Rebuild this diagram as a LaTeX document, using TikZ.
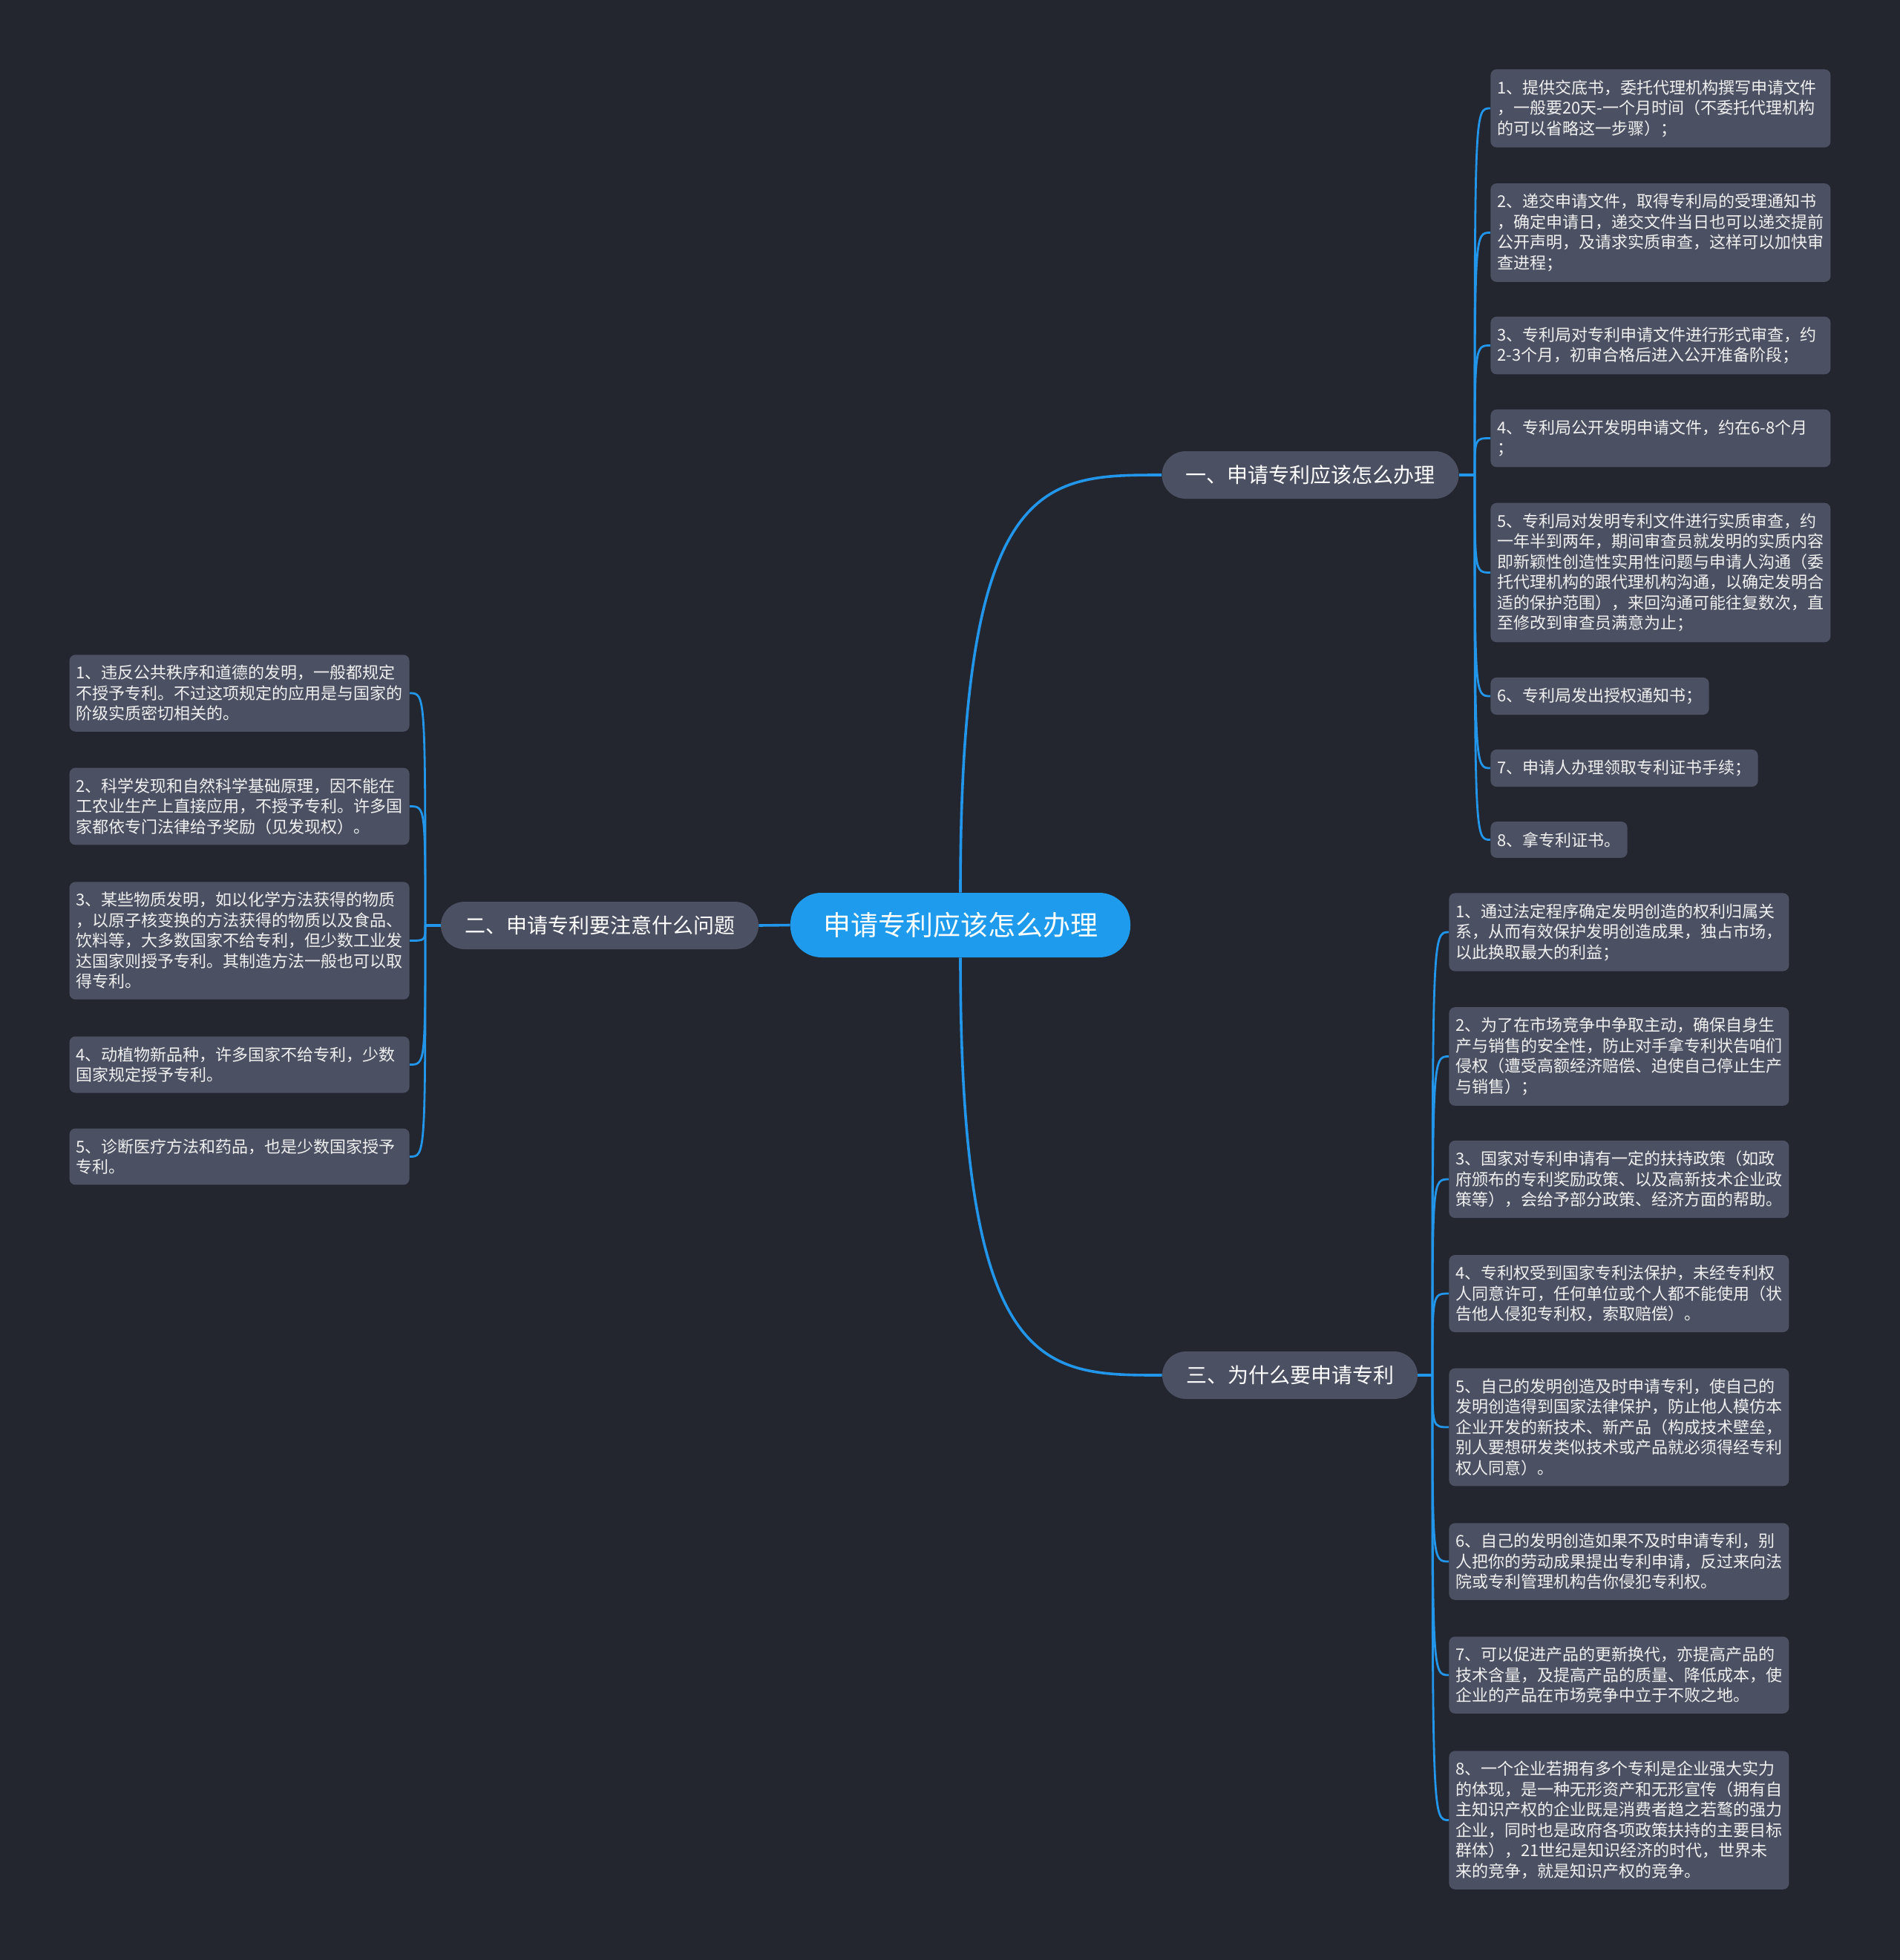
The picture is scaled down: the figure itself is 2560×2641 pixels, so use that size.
\documentclass[tikz,border=0pt]{standalone}
\usepackage{fontspec}
\newfontfamily\cjk{Noto Sans CJK SC}
\exhyphenpenalty=10000
\hyphenpenalty=10000

\definecolor{bgdark}{HTML}{23262F}
\definecolor{boxgray}{HTML}{4B5162}
\definecolor{rootblue}{HTML}{1E9BEC}
\definecolor{linkblue}{HTML}{2196EA}
\definecolor{leaftext}{HTML}{F0F0F0}

\tikzset{
  root/.style={fill=rootblue, rounded corners=21pt, minimum height=43.5pt, inner xsep=22pt, inner ysep=0pt, text=white, font=\cjk\fontsize{18.5}{22}\selectfont},
  branch/.style={fill=boxgray, rounded corners=16pt, minimum height=32pt, inner xsep=16pt, inner ysep=0pt, text=white, font=\cjk\fontsize{14}{17}\selectfont},
  leafbox/.style={fill=boxgray, rounded corners=4pt, inner xsep=4.5pt, inner ysep=7pt, text=leaftext, align=left, font=\cjk\fontsize{11}{13.75}\selectfont},
  leaf/.style={leafbox, text width=220pt},
  leafshort/.style={leafbox},
  link/.style={draw=linkblue, line width=1.8pt},
  twig/.style={draw=linkblue, line width=1.4pt}
}

\begin{document}
\begin{tikzpicture}[x=0.5pt, y=-0.5pt]
        \fill[bgdark] (0,0) rectangle (2560,2641);

        % Centre
        \node[root] (root) at (1294,1246.5) {申请专利应该怎么办理};

        % Branches
        \node[branch] (b1) at (1765.5,640) {一、申请专利应该怎么办理};
        \node[branch] (b2) at (808,1247) {二、申请专利要注意什么问题};
        \node[branch] (b3) at (1738,1853) {三、为什么要申请专利};

        \draw[link] (root.north) .. controls (root.north |- b1.west) and (1405,640) .. (b1.west);
        \draw[link] (root.south) .. controls (root.south |- b3.west) and (1405,1853) .. (b3.west);
        \draw[link] (root.west) -- (b2.east);

        % Branch 1 leaves
        \coordinate (f1) at (1987,640);
        \draw[link] (b1.east) -- (f1);
        \node[leaf, anchor=west] (l1) at (2008,146) {1、提供交底书，委托代理机构撰写申请文件\\，一般要20天-一个月时间（不委托代理机构\\的可以省略这一步骤）；};
        \node[leaf, anchor=west] (l2) at (2008,313.5) {2、递交申请文件，取得专利局的受理通知书\\，确定申请日，递交文件当日也可以递交提前\\公开声明，及请求实质审查，这样可以加快审\\查进程；};
        \node[leaf, anchor=west] (l3) at (2008,465.5) {3、专利局对专利申请文件进行形式审查，约\\2-3个月，初审合格后进入公开准备阶段；};
        \node[leaf, anchor=west] (l4) at (2008,590.5) {4、专利局公开发明申请文件，约在6-8个月\\；};
        \node[leaf, anchor=west] (l5) at (2008,771.5) {5、专利局对发明专利文件进行实质审查，约\\一年半到两年，期间审查员就发明的实质内容\\即新颖性创造性实用性问题与申请人沟通（委\\托代理机构的跟代理机构沟通，以确定发明合\\适的保护范围），来回沟通可能往复数次，直\\至修改到审查员满意为止；};
        \node[leafshort, anchor=west] (l6) at (2008,938) {6、专利局发出授权通知书；};
        \node[leafshort, anchor=west] (l7) at (2008,1035) {7、申请人办理领取专利证书手续；};
        \node[leafshort, anchor=west] (l8) at (2008,1131.5) {8、拿专利证书。};

        \draw[twig] (f1) .. controls (f1 |- l1.west) and (f1 |- l1.west) .. (l1.west);
        \draw[twig] (f1) .. controls (f1 |- l2.west) and (f1 |- l2.west) .. (l2.west);
        \draw[twig] (f1) .. controls (f1 |- l3.west) and (f1 |- l3.west) .. (l3.west);
        \draw[twig] (f1) .. controls (f1 |- l4.west) and (f1 |- l4.west) .. (l4.west);
        \draw[twig] (f1) .. controls (f1 |- l5.west) and (f1 |- l5.west) .. (l5.west);
        \draw[twig] (f1) .. controls (f1 |- l6.west) and (f1 |- l6.west) .. (l6.west);
        \draw[twig] (f1) .. controls (f1 |- l7.west) and (f1 |- l7.west) .. (l7.west);
        \draw[twig] (f1) .. controls (f1 |- l8.west) and (f1 |- l8.west) .. (l8.west);

        % Branch 2 leaves
        \coordinate (f2) at (573,1247);
        \draw[link] (b2.west) -- (f2);
        \node[leaf, anchor=east] (m1) at (552,934) {1、违反公共秩序和道德的发明，一般都规定\\不授予专利。不过这项规定的应用是与国家的\\阶级实质密切相关的。};
        \node[leaf, anchor=east] (m2) at (552,1086.5) {2、科学发现和自然科学基础原理，因不能在\\工农业生产上直接应用，不授予专利。许多国\\家都依专门法律给予奖励（见发现权）。};
        \node[leaf, anchor=east] (m3) at (552,1267.5) {3、某些物质发明，如以化学方法获得的物质\\，以原子核变换的方法获得的物质以及食品、\\饮料等，大多数国家不给专利，但少数工业发\\达国家则授予专利。其制造方法一般也可以取\\得专利。};
        \node[leaf, anchor=east] (m4) at (552,1434.5) {4、动植物新品种，许多国家不给专利，少数\\国家规定授予专利。};
        \node[leaf, anchor=east] (m5) at (552,1558.5) {5、诊断医疗方法和药品，也是少数国家授予\\专利。};

        \draw[twig] (f2) .. controls (f2 |- m1.east) and (f2 |- m1.east) .. (m1.east);
        \draw[twig] (f2) .. controls (f2 |- m2.east) and (f2 |- m2.east) .. (m2.east);
        \draw[twig] (f2) .. controls (f2 |- m3.east) and (f2 |- m3.east) .. (m3.east);
        \draw[twig] (f2) .. controls (f2 |- m4.east) and (f2 |- m4.east) .. (m4.east);
        \draw[twig] (f2) .. controls (f2 |- m5.east) and (f2 |- m5.east) .. (m5.east);

        % Branch 3 leaves
        \coordinate (f3) at (1930,1853);
        \draw[link] (b3.east) -- (f3);
        \node[leaf, anchor=west] (n1) at (1952,1256) {1、通过法定程序确定发明创造的权利归属关\\系，从而有效保护发明创造成果，独占市场，\\以此换取最大的利益；};
        \node[leaf, anchor=west] (n2) at (1952,1423.5) {2、为了在市场竞争中争取主动，确保自身生\\产与销售的安全性，防止对手拿专利状告咱们\\侵权（遭受高额经济赔偿、迫使自己停止生产\\与销售）；};
        \node[leaf, anchor=west] (n3) at (1952,1589) {3、国家对专利申请有一定的扶持政策（如政\\府颁布的专利奖励政策、以及高新技术企业政\\策等），会给予部分政策、经济方面的帮助。};
        \node[leaf, anchor=west] (n4) at (1952,1743) {4、专利权受到国家专利法保护，未经专利权\\人同意许可，任何单位或个人都不能使用（状\\告他人侵犯专利权，索取赔偿）。};
        \node[leaf, anchor=west] (n5) at (1952,1923) {5、自己的发明创造及时申请专利，使自己的\\发明创造得到国家法律保护，防止他人模仿本\\企业开发的新技术、新产品（构成技术壁垒，\\别人要想研发类似技术或产品就必须得经专利\\权人同意）。};
        \node[leaf, anchor=west] (n6) at (1952,2104) {6、自己的发明创造如果不及时申请专利，别\\人把你的劳动成果提出专利申请，反过来向法\\院或专利管理机构告你侵犯专利权。};
        \node[leaf, anchor=west] (n7) at (1952,2257) {7、可以促进产品的更新换代，亦提高产品的\\技术含量，及提高产品的质量、降低成本，使\\企业的产品在市场竞争中立于不败之地。};
        \node[leaf, anchor=west] (n8) at (1952,2452.5) {8、一个企业若拥有多个专利是企业强大实力\\的体现，是一种无形资产和无形宣传（拥有自\\主知识产权的企业既是消费者趋之若鹜的强力\\企业，同时也是政府各项政策扶持的主要目标\\群体），21世纪是知识经济的时代，世界未\\来的竞争，就是知识产权的竞争。};

        \draw[twig] (f3) .. controls (f3 |- n1.west) and (f3 |- n1.west) .. (n1.west);
        \draw[twig] (f3) .. controls (f3 |- n2.west) and (f3 |- n2.west) .. (n2.west);
        \draw[twig] (f3) .. controls (f3 |- n3.west) and (f3 |- n3.west) .. (n3.west);
        \draw[twig] (f3) .. controls (f3 |- n4.west) and (f3 |- n4.west) .. (n4.west);
        \draw[twig] (f3) .. controls (f3 |- n5.west) and (f3 |- n5.west) .. (n5.west);
        \draw[twig] (f3) .. controls (f3 |- n6.west) and (f3 |- n6.west) .. (n6.west);
        \draw[twig] (f3) .. controls (f3 |- n7.west) and (f3 |- n7.west) .. (n7.west);
        \draw[twig] (f3) .. controls (f3 |- n8.west) and (f3 |- n8.west) .. (n8.west);
    \end{tikzpicture}
\end{document}
